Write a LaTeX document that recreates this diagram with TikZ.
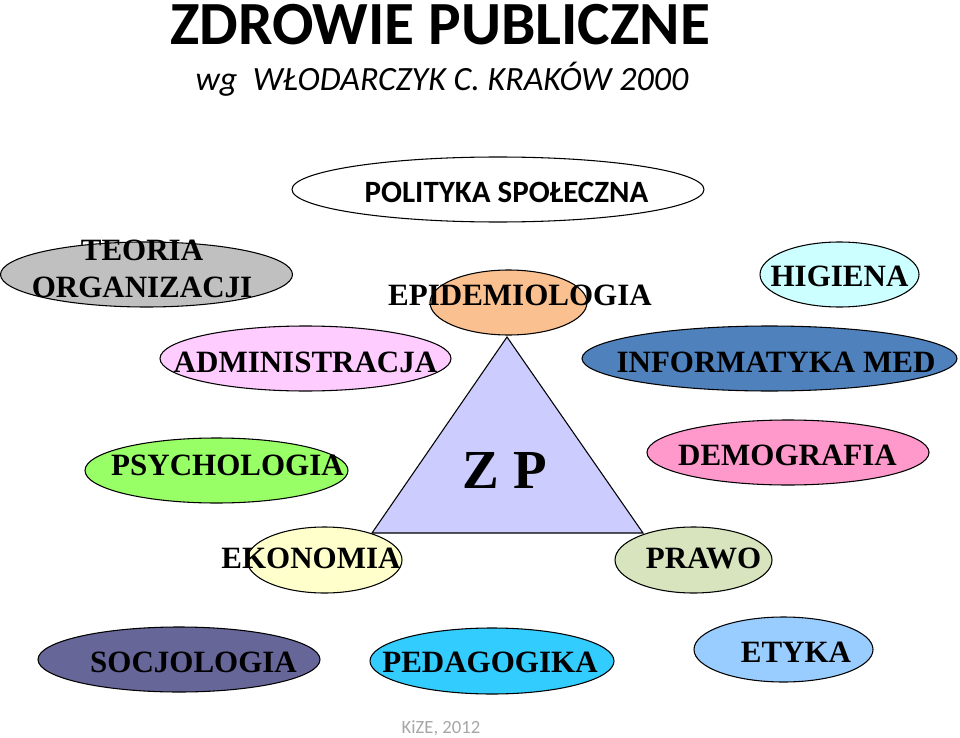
\documentclass[tikz,border=0pt]{standalone}
\usepackage{fontspec}
\setmainfont{Liberation Serif}
\newfontfamily\calfnt{Carlito}
\usetikzlibrary{shapes.geometric}
\definecolor{cGray}{HTML}{C0C0C0}
\definecolor{cOrange}{HTML}{FAC08F}
\definecolor{cCyan}{HTML}{CCFFFF}
\definecolor{cPink}{HTML}{FFCCFF}
\definecolor{cSteel}{HTML}{4F81BD}
\definecolor{cTri}{HTML}{CCCCFF}
\definecolor{cGreen}{HTML}{99FF66}
\definecolor{cRose}{HTML}{FF99CC}
\definecolor{cYellow}{HTML}{FFFFCC}
\definecolor{cOlive}{HTML}{D7E4BD}
\definecolor{cSoc}{HTML}{666699}
\definecolor{cSky}{HTML}{33CCFF}
\definecolor{cLBlue}{HTML}{99CCFF}
\definecolor{cFoot}{HTML}{A6A6A6}
\tikzset{
  ell/.style={ellipse, draw=black, line width=0.8pt, inner sep=0pt, minimum height=48.75pt},
  lbl/.style={anchor=base, inner sep=0pt, font=\bfseries\fontsize{23.25pt}{27.75pt}\selectfont},
}
\begin{document}
\begin{tikzpicture}[x=0.75pt,y=-0.75pt]
\useasboundingbox (0,0) rectangle (960,738);
% title
\node[anchor=base, inner sep=0pt, font=\calfnt\bfseries\fontsize{46pt}{52pt}\selectfont] (title) at (440,44.5) {ZDROWIE PUBLICZNE};
\node[anchor=base, inner sep=0pt, font=\calfnt\itshape\fontsize{25.5pt}{30pt}\selectfont] (sub) at (442,91) {wg\ \ WŁODARCZYK C. KRAKÓW 2000};
% ellipses
\node[ell, fill=white, minimum width=309pt] (pol) at (498,189.5) {};
\node[ell, fill=cGray, minimum width=219pt] (teo) at (146.5,274.5) {};
\node[ell, fill=cOrange, minimum width=117.75pt] (epi) at (508.5,302.5) {};
\node[ell, fill=cCyan, minimum width=119.25pt] (hig) at (839.5,274.5) {};
\node[ell, fill=cPink, minimum width=218.25pt] (adm) at (305.5,358.5) {};
\node[ell, fill=cSteel, minimum width=281.25pt] (inf) at (769.5,358.5) {};
\node[ell, fill=cGreen, minimum width=197.25pt] (psy) at (216.5,470.5) {};
\node[ell, fill=cRose, minimum width=211.5pt] (dem) at (788,452.5) {};
\node[ell, fill=cYellow, minimum width=116.25pt, minimum height=49.5pt] (eko) at (324.5,560) {};
\node[ell, fill=cOlive, minimum width=117.75pt, minimum height=49.5pt] (pra) at (693.5,560) {};
\node[ell, fill=cSoc, minimum width=211.5pt] (soc) at (179,659.5) {};
\node[ell, fill=cSky, minimum width=183pt, minimum height=49.5pt] (ped) at (492,661) {};
\node[ell, fill=cLBlue, minimum width=134.25pt] (ety) at (783.5,649.5) {};
% triangle
\coordinate (tA) at (507,337);
\coordinate (tB) at (372,533);
\coordinate (tC) at (643,533);
\draw[fill=cTri, line width=0.8pt, line join=miter] (tA) -- (tB) -- (tC) -- cycle;
% labels
\node[anchor=base, inner sep=0pt, font=\calfnt\bfseries\fontsize{23.25pt}{27pt}\selectfont] (polT) at (506.5,202) {POLITYKA SPOŁECZNA};
\node[lbl, align=center, anchor=base] (teoT) at (142,297) {TEORIA\\ORGANIZACJI};
\node[lbl] (epiT) at (520,305) {EPIDEMIOLOGIA};
\node[lbl] (higT) at (839.5,286) {HIGIENA};
\node[lbl] (admT) at (305.5,372) {ADMINISTRACJA};
\node[lbl] (infT) at (776,372) {INFORMATYKA MED};
\node[lbl] (psyT) at (227.5,475) {PSYCHOLOGIA};
\node[lbl] (demT) at (787.5,465) {DEMOGRAFIA};
\node[lbl] (ekoT) at (311,568) {EKONOMIA};
\node[lbl] (praT) at (703.5,568) {PRAWO};
\node[lbl] (socT) at (193.5,672) {SOCJOLOGIA};
\node[lbl] (pedT) at (490,672) {PEDAGOGIKA};
\node[lbl] (etyT) at (796,662) {ETYKA};
\node[anchor=base, inner sep=0pt, font=\bfseries\fontsize{41.25pt}{48pt}\selectfont] (zp) at (505,488) {Z P};
% footer
\node[anchor=base, inner sep=0pt, text=cFoot, font=\calfnt\fontsize{14pt}{16pt}\selectfont] (foot) at (441,733) {KiZE, 2012};
\end{tikzpicture}
\end{document}
